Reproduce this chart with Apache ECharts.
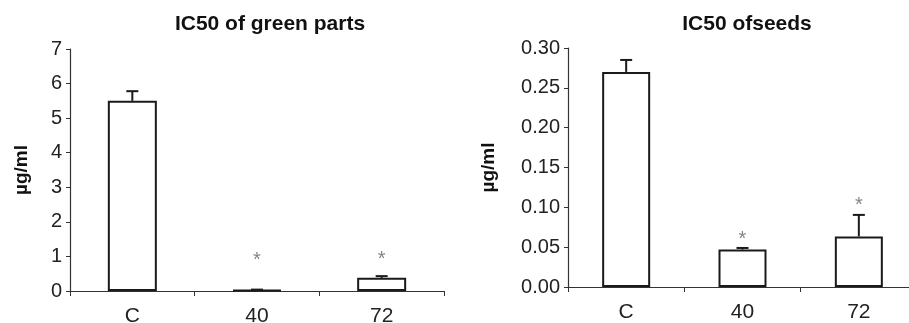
<!DOCTYPE html>
<html>
<head>
<meta charset="utf-8">
<script src="https://cdn.jsdelivr.net/npm/echarts@6/dist/echarts.min.js"></script>
<style>
  html, body { margin: 0; padding: 0; background: #fff; }
  #chart { width: 909px; height: 323px; }
</style>
</head>
<body>
<div id="chart"></div>
<script>
    // categories and values
    const categories = ['C', '40', '72'];

    const greenMean = [5.5, 0.03, 0.38];
    const greenErr = [0.28, 0.01, 0.05];
    const greenStar = [null, 1.04, 1.07];

    const seedMean = [0.27, 0.047, 0.0635];
    const seedErr = [0.015, 0.002, 0.027];
    const seedStar = [null, 0.0664, 0.1084];

    const titles = ['IC50 of green parts', 'IC50 ofseeds'];
    const yName = 'µg/ml';

    const FONT = 'Liberation Sans';
    const INK = '#1a1a1a';

    const myChart = echarts.init(document.getElementById('chart'));

    function errorSeries(idx, means, errs) {
        return {
            type: 'custom',
            xAxisIndex: idx,
            yAxisIndex: idx,
            z: 3,
            data: means.map((m, i) => [i, m, m + errs[i]]),
            renderItem: function (params, api) {
                const base = api.coord([api.value(0), api.value(1)]);
                const top = api.coord([api.value(0), api.value(2)]);
                const hw = 6;
                const style = { stroke: INK, lineWidth: 2 };
                return {
                    type: 'group',
                    children: [
                        { type: 'line', shape: { x1: base[0], y1: base[1], x2: top[0], y2: top[1] }, style: style },
                        { type: 'line', shape: { x1: top[0] - hw, y1: top[1], x2: top[0] + hw, y2: top[1] }, style: style }
                    ]
                };
            }
        };
    }

    function starSeries(idx, stars) {
        return {
            type: 'scatter',
            xAxisIndex: idx,
            yAxisIndex: idx,
            symbolSize: 0,
            silent: true,
            data: stars.map((v, i) => v == null ? null : [i, v]),
            label: {
                show: true,
                position: 'inside',
                formatter: '*',
                fontFamily: FONT,
                fontSize: 20,
                color: '#666',
                offset: [0, 5]
            }
        };
    }

    function barSeries(idx, means, w) {
        return {
            type: 'bar',
            xAxisIndex: idx,
            yAxisIndex: idx,
            barWidth: w,
            data: means,
            itemStyle: {
                color: '#fff',
                borderColor: INK,
                borderWidth: 2
            }
        };
    }

    function xAxisFor(idx) {
        return {
            type: 'category',
            gridIndex: idx,
            data: categories,
            axisLine: { lineStyle: { color: '#333', width: 1.2 } },
            axisTick: { show: true, alignWithLabel: false, length: 5, lineStyle: { color: '#333' } },
            axisLabel: { fontFamily: FONT, fontSize: 21, color: '#222', margin: 15 }
        };
    }

    function yAxisFor(idx, max, interval, digits, fontSize, gap) {
        return {
            type: 'value',
            gridIndex: idx,
            min: 0,
            max: max,
            interval: interval,
            name: yName,
            nameLocation: 'middle',
            nameGap: gap,
            nameTextStyle: { fontFamily: FONT, fontSize: 19, fontWeight: 'bold', color: '#111' },
            axisLine: { show: true, lineStyle: { color: '#333', width: 1.2 } },
            axisTick: { show: true, length: 4, lineStyle: { color: '#333' } },
            splitLine: { show: false },
            axisLabel: {
                fontFamily: FONT,
                fontSize: fontSize,
                color: '#222',
                margin: 8,
                formatter: v => v.toFixed(digits)
            }
        };
    }

    const option = {
        backgroundColor: '#fff',
        animation: false,
        title: [
            {
                text: titles[0],
                left: 265,
                top: 9,
                textAlign: 'center',
                textStyle: { fontFamily: FONT, fontSize: 21, fontWeight: 'bold', color: '#111' }
            },
            {
                text: titles[1],
                left: 742,
                top: 9,
                textAlign: 'center',
                textStyle: { fontFamily: FONT, fontSize: 21, fontWeight: 'bold', color: '#111' }
            }
        ],
        grid: [
            { left: 70, top: 49, width: 374, height: 242, outerBoundsMode: 'none' },
            { left: 568, top: 48, right: -8, height: 239, outerBoundsMode: 'none' }
        ],
        xAxis: [xAxisFor(0), xAxisFor(1)],
        yAxis: [
            yAxisFor(0, 7, 1, 0, 20, 39),
            yAxisFor(1, 0.3, 0.05, 2, 20, 70)
        ],
        series: [
            barSeries(0, greenMean, 49),
            errorSeries(0, greenMean, greenErr),
            starSeries(0, greenStar),
            barSeries(1, seedMean, 48),
            errorSeries(1, seedMean, seedErr),
            starSeries(1, seedStar)
        ]
    };

    myChart.setOption(option);
</script>
</body>
</html>
